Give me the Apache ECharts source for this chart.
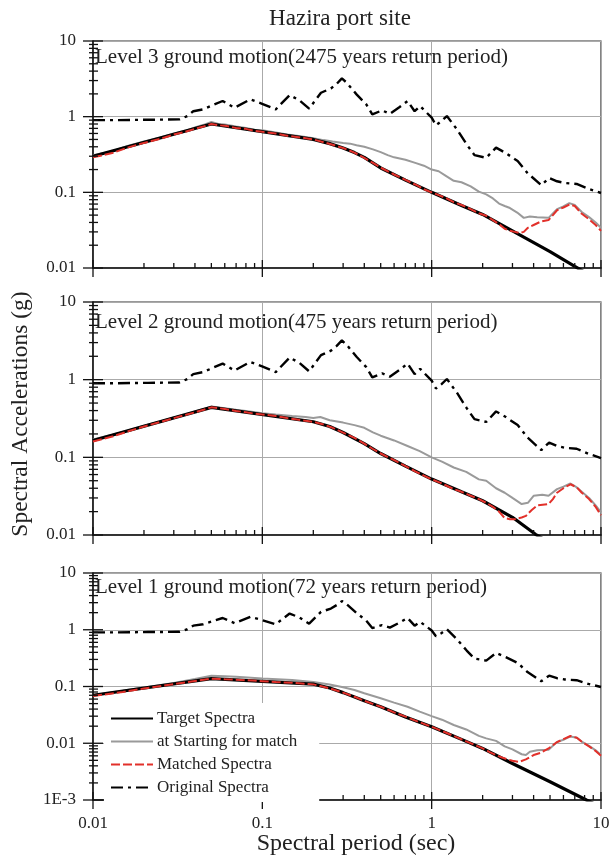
<!DOCTYPE html>
<html><head><meta charset="utf-8">
<script src="https://cdn.jsdelivr.net/npm/echarts@6/dist/echarts.min.js"></script>
<style>html,body{margin:0;padding:0;background:#fff}#c{width:615px;height:856px}</style>
</head><body><div id="c"></div>
<script>
// ---- data (period sec, spectral acceleration g) ----
const seriesNames = ['Target Spectra', 'at Starting for match', 'Matched Spectra', 'Original Spectra'];
const panelTitles = ['Level 3 ground motion(2475 years return period)', 'Level 2 ground motion(475 years return period)', 'Level 1 ground motion(72 years return period)'];
const xTickValues = [0.01, 0.1, 1, 10];
const xMinorValues = [0.02,0.03,0.04,0.05,0.06,0.07,0.08,0.09,0.2,0.3,0.4,0.5,0.6,0.7,0.8,0.9,2,3,4,5,6,7,8,9];
const yRanges = [[0.01, 10], [0.01, 10], [0.001, 10]];

const original = [[0.01,0.90],[0.0138,0.90],[0.0211,0.91],[0.0324,0.92],[0.0361,1.02],[0.0391,1.18],[0.0447,1.25],[0.051,1.42],[0.0583,1.61],[0.0685,1.31],[0.0849,1.69],[0.0997,1.48],[0.120,1.25],[0.145,1.93],[0.166,1.64],[0.189,1.28],[0.222,2.07],[0.254,2.36],[0.275,2.72],[0.295,3.2],[0.315,2.81],[0.360,1.97],[0.411,1.45],[0.446,1.07],[0.509,1.21],[0.566,1.09],[0.647,1.34],[0.721,1.61],[0.793,1.18],[0.855,1.38],[1.0,0.97],[1.06,0.77],[1.14,0.87],[1.23,1.02],[1.41,0.68],[1.61,0.43],[1.79,0.31],[2.10,0.286],[2.40,0.39],[2.74,0.33],[3.22,0.26],[3.68,0.18],[4.44,0.124],[4.94,0.155],[5.50,0.14],[6.11,0.133],[7.18,0.129],[8.43,0.111],[10,0.098]];

const target1 = [[0.01,0.3],[0.05,0.8],[0.2,0.5],[0.25,0.44],[0.3,0.385],[0.35,0.335],[0.4,0.29],[0.5,0.21],[0.7,0.145],[1,0.1],[1.5,0.067],[2,0.051],[3,0.031],[5,0.0165],[7,0.0105],[10,0.0066]];
const start1 = [[0.01,0.31],[0.013,0.35],[0.016,0.41],[0.02,0.47],[0.025,0.53],[0.03,0.6],[0.035,0.65],[0.04,0.72],[0.045,0.78],[0.05,0.85],[0.055,0.8],[0.06,0.79],[0.07,0.74],[0.08,0.71],[0.09,0.67],[0.1,0.66],[0.12,0.62],[0.14,0.58],[0.16,0.56],[0.18,0.54],[0.2,0.52],[0.23,0.49],[0.26,0.47],[0.3,0.45],[0.33,0.44],[0.36,0.42],[0.4,0.40],[0.45,0.37],[0.5,0.34],[0.55,0.31],[0.6,0.29],[0.7,0.27],[0.8,0.245],[0.9,0.225],[1.0,0.2],[1.1,0.19],[1.2,0.168],[1.35,0.142],[1.5,0.136],[1.7,0.12],[1.9,0.102],[2.1,0.094],[2.3,0.083],[2.5,0.071],[2.7,0.066],[2.9,0.062],[3.2,0.054],[3.5,0.046],[3.8,0.048],[4.2,0.047],[4.9,0.046],[5.5,0.06],[6.0,0.065],[6.5,0.072],[7.0,0.068],[7.7,0.055],[8.5,0.047],[9.3,0.04],[10,0.034]];
const matched1 = [[0.01,0.29],[0.013,0.33],[0.016,0.39],[0.02,0.45],[0.025,0.51],[0.03,0.58],[0.035,0.63],[0.04,0.69],[0.045,0.74],[0.05,0.8],[0.055,0.77],[0.06,0.76],[0.07,0.71],[0.08,0.69],[0.09,0.65],[0.1,0.63],[0.12,0.6],[0.14,0.56],[0.16,0.54],[0.18,0.52],[0.2,0.5],[0.23,0.46],[0.26,0.425],[0.3,0.385],[0.35,0.335],[0.4,0.285],[0.45,0.245],[0.5,0.212],[0.6,0.172],[0.7,0.146],[0.8,0.127],[0.9,0.11],[1.0,0.1],[1.1,0.092],[1.2,0.085],[1.35,0.074],[1.5,0.068],[1.7,0.06],[1.9,0.053],[2.1,0.049],[2.3,0.043],[2.5,0.038],[2.7,0.033],[2.9,0.031],[3.1,0.03],[3.3,0.029],[3.5,0.03],[3.7,0.034],[4.0,0.037],[4.4,0.041],[4.9,0.043],[5.2,0.05],[5.5,0.058],[6.0,0.063],[6.5,0.069],[7.0,0.066],[7.7,0.052],[8.5,0.044],[9.3,0.037],[10,0.031]];

const target2 = [[0.01,0.165],[0.05,0.44],[0.2,0.287],[0.25,0.25],[0.3,0.209],[0.4,0.15],[0.5,0.112],[0.7,0.077],[1,0.0525],[1.5,0.036],[2,0.0276],[3,0.0169],[4.1,0.0102],[6,0.0063],[10,0.0035]];
const start2 = [[0.01,0.17],[0.013,0.195],[0.016,0.22],[0.02,0.255],[0.025,0.29],[0.03,0.325],[0.035,0.355],[0.04,0.39],[0.045,0.42],[0.05,0.45],[0.06,0.43],[0.07,0.41],[0.08,0.395],[0.1,0.37],[0.12,0.355],[0.15,0.34],[0.18,0.33],[0.2,0.32],[0.22,0.33],[0.25,0.30],[0.3,0.28],[0.35,0.26],[0.4,0.24],[0.45,0.21],[0.5,0.19],[0.6,0.165],[0.72,0.14],[0.85,0.12],[1.0,0.1],[1.15,0.088],[1.35,0.074],[1.6,0.065],[1.9,0.052],[2.1,0.05],[2.4,0.04],[2.7,0.035],[3.0,0.03],[3.4,0.025],[3.7,0.026],[4.0,0.032],[4.5,0.033],[4.9,0.032],[5.5,0.039],[6.0,0.042],[6.6,0.046],[7.2,0.041],[7.7,0.036],[8.5,0.03],[9.3,0.024],[10,0.0195]];
const matched2 = [[0.01,0.16],[0.013,0.185],[0.016,0.215],[0.02,0.25],[0.025,0.285],[0.03,0.32],[0.035,0.35],[0.04,0.38],[0.045,0.41],[0.05,0.44],[0.06,0.42],[0.07,0.395],[0.08,0.38],[0.09,0.365],[0.1,0.356],[0.12,0.34],[0.14,0.32],[0.16,0.308],[0.18,0.295],[0.2,0.286],[0.23,0.265],[0.26,0.24],[0.3,0.208],[0.35,0.178],[0.4,0.15],[0.45,0.128],[0.5,0.112],[0.6,0.092],[0.7,0.077],[0.8,0.066],[0.9,0.058],[1.0,0.052],[1.1,0.048],[1.2,0.044],[1.35,0.039],[1.5,0.036],[1.7,0.032],[1.9,0.029],[2.1,0.026],[2.3,0.023],[2.5,0.02],[2.7,0.0165],[2.9,0.016],[3.1,0.016],[3.4,0.0168],[3.6,0.0176],[3.9,0.021],[4.2,0.024],[4.9,0.025],[5.2,0.029],[5.5,0.035],[6.0,0.04],[6.6,0.045],[7.2,0.041],[7.7,0.035],[8.5,0.029],[9.3,0.023],[10,0.018]];

const target3 = [[0.01,0.07],[0.05,0.138],[0.2,0.11],[0.25,0.094],[0.3,0.078],[0.4,0.056],[0.5,0.044],[0.7,0.029],[1,0.0195],[1.5,0.0117],[2,0.0081],[3,0.0044],[5,0.0021],[8.2,0.001],[10,0.00075]];
const start3 = [[0.01,0.07],[0.015,0.084],[0.02,0.096],[0.03,0.115],[0.04,0.135],[0.05,0.155],[0.06,0.152],[0.07,0.148],[0.1,0.138],[0.15,0.13],[0.2,0.12],[0.25,0.108],[0.3,0.097],[0.35,0.087],[0.4,0.076],[0.5,0.062],[0.6,0.052],[0.72,0.044],[0.85,0.036],[1.0,0.03],[1.15,0.026],[1.35,0.021],[1.6,0.0175],[1.9,0.0135],[2.1,0.0122],[2.4,0.011],[2.7,0.0088],[3.0,0.0078],[3.4,0.0064],[3.6,0.0062],[3.8,0.0071],[4.2,0.0075],[4.9,0.0077],[5.5,0.0105],[6.0,0.0115],[6.6,0.0132],[7.2,0.0125],[7.7,0.0107],[8.5,0.009],[9.3,0.0075],[10,0.0062]];
const matched3 = [[0.01,0.068],[0.015,0.08],[0.02,0.092],[0.03,0.11],[0.04,0.125],[0.05,0.137],[0.06,0.134],[0.07,0.132],[0.08,0.129],[0.1,0.124],[0.12,0.12],[0.15,0.116],[0.2,0.109],[0.25,0.093],[0.3,0.078],[0.35,0.066],[0.4,0.056],[0.5,0.044],[0.6,0.035],[0.7,0.0295],[0.8,0.025],[0.9,0.022],[1.0,0.0195],[1.2,0.0156],[1.4,0.0128],[1.6,0.0108],[1.8,0.0093],[2.0,0.0081],[2.2,0.007],[2.4,0.0062],[2.6,0.0056],[2.8,0.0052],[3.0,0.0049],[3.3,0.0047],[3.6,0.0052],[4.0,0.0062],[4.4,0.0068],[4.9,0.0081],[5.5,0.0105],[6.0,0.0118],[6.6,0.0134],[7.2,0.0125],[7.7,0.0106],[8.5,0.0088],[9.3,0.0073],[10,0.006]];

// ---- chart ----
const FONT = '"Liberation Serif", "DejaVu Serif", serif';
const panels = [
  {top: 41, height: 227, target: target1, start: start1, matched: matched1},
  {top: 302, height: 233, target: target2, start: start2, matched: matched2},
  {top: 573, height: 227, target: target3, start: start3, matched: matched3}
];
function yMinorList(r) {
  const out = [];
  for (let e = Math.round(Math.log10(r[0])); e < Math.round(Math.log10(r[1])); e++)
    for (let k = 2; k <= 9; k++) out.push(+(k * Math.pow(10, e)).toPrecision(3));
  return out;
}
function yMajorList(r) {
  const out = [];
  for (let e = Math.round(Math.log10(r[0])); e <= Math.round(Math.log10(r[1])); e++) out.push(Math.pow(10, e));
  return out;
}
function fmt(v) {
  const e = Math.round(Math.log10(v));
  if (e === -3) return '1E-3';
  if (e >= 0) return String(Math.pow(10, e));
  return '0.' + '0'.repeat(-e - 1) + '1';
}
const grid = [], xAxis = [], yAxis = [], series = [];
panels.forEach((p, i) => {
  grid.push({left: 93, right: 14, top: p.top, height: p.height, show: true, borderColor: '#333', borderWidth: 1.2, backgroundColor: 'transparent'});
  xAxis.push({type: 'log', logBase: 10, gridIndex: i, min: 0.01, max: 10,
    axisLine: {show: true, lineStyle: {color: '#111', width: 1.5}},
    axisTick: {show: false}, minorTick: {show: false},
    splitLine: {show: true, lineStyle: {color: '#aaa', width: 1}},
    axisLabel: {show: i === 2, formatter: fmt, fontFamily: FONT, fontSize: 17, color: '#222', margin: 15}});
  yAxis.push({type: 'log', logBase: 10, gridIndex: i, min: yRanges[i][0], max: yRanges[i][1],
    axisLine: {show: true, lineStyle: {color: '#111', width: 1.5}},
    axisTick: {show: false}, minorTick: {show: false},
    splitLine: {show: true, lineStyle: {color: '#aaa', width: 1}},
    axisLabel: {formatter: fmt, fontFamily: FONT, fontSize: 17, color: '#222', margin: 17}});
  const base = {type: 'line', xAxisIndex: i, yAxisIndex: i, symbol: 'none', showSymbol: false, animation: false, clip: true};
  series.push(Object.assign({}, base, {name: seriesNames[1], data: p.start, z: 2, lineStyle: {color: '#9a9a9a', width: 2}, itemStyle: {color: '#9a9a9a'}}));
  series.push(Object.assign({}, base, {name: seriesNames[0], data: p.target, z: 3, lineStyle: {color: '#000', width: 3.2}, itemStyle: {color: '#000'}}));
  series.push(Object.assign({}, base, {name: seriesNames[2], data: p.matched, z: 4, lineStyle: {color: '#e2302a', width: 2, type: [9, 3]}, itemStyle: {color: '#e2302a'}}));
  series.push(Object.assign({}, base, {name: seriesNames[3], data: original, z: 5, lineStyle: {color: '#000', width: 2.4, type: [12, 5, 3, 5]}, itemStyle: {color: '#000'}}));
  // tick marks drawn through the axis scales
  const r = yRanges[i];
  const tickData = [];
  xTickValues.forEach(v => tickData.push([v, r[0], 'xM']));
  xMinorValues.forEach(v => tickData.push([v, r[0], 'xm']));
  yMajorList(r).forEach(v => tickData.push([0.01, v, 'yM']));
  yMinorList(r).forEach(v => tickData.push([0.01, v, 'ym']));
  series.push({type: 'custom', xAxisIndex: i, yAxisIndex: i, z: 6, silent: true, animation: false,
    encode: {x: 0, y: 1}, data: tickData,
    renderItem: (params, api) => {
      const kind = tickData[params.dataIndex][2];
      const c = api.coord([api.value(0), api.value(1)]);
      let shape;
      if (kind === 'xM') shape = {x1: c[0], y1: c[1] - 8, x2: c[0], y2: c[1] + 9};
      else if (kind === 'xm') shape = {x1: c[0], y1: c[1] - 5, x2: c[0], y2: c[1]};
      else if (kind === 'yM') shape = {x1: c[0] - 10, y1: c[1], x2: c[0] + 10, y2: c[1]};
      else shape = {x1: c[0] - 4, y1: c[1], x2: c[0] + 5, y2: c[1]};
      return {type: 'line', shape: shape, style: {stroke: '#111', lineWidth: 1.3}};
    }});
});
const graphic = [
  {type: 'text', x: 340, y: 19, style: {text: 'Hazira port site', font: '23px ' + FONT, fill: '#222', align: 'center', verticalAlign: 'middle'}},
  {type: 'text', x: 356, y: 844, style: {text: 'Spectral period (sec)', font: '24px ' + FONT, fill: '#222', align: 'center', verticalAlign: 'middle'}},
  {type: 'text', x: 21, y: 414, rotation: Math.PI / 2, style: {text: 'Spectral Accelerations (g)', font: '23.5px ' + FONT, fill: '#222', align: 'center', verticalAlign: 'middle'}},
  {type: 'text', x: 95, y: 57, z: 10, style: {text: panelTitles[0], font: '21px ' + FONT, fill: '#222', align: 'left', verticalAlign: 'middle'}},
  {type: 'text', x: 95, y: 322, z: 10, style: {text: panelTitles[1], font: '21px ' + FONT, fill: '#222', align: 'left', verticalAlign: 'middle'}},
  {type: 'text', x: 95, y: 587, z: 10, style: {text: panelTitles[2], font: '21px ' + FONT, fill: '#222', align: 'left', verticalAlign: 'middle'}}
];
const chart = echarts.init(document.getElementById('c'));
chart.setOption({
  animation: false,
  backgroundColor: '#fff',
  grid: grid, xAxis: xAxis, yAxis: yAxis, series: series, graphic: graphic,
  legend: {data: seriesNames, orient: 'vertical', left: 104, top: 703, itemWidth: 42, itemHeight: 14, itemGap: 6,
    backgroundColor: '#fff', padding: [7, 22, 6, 6], z: 8,
    itemStyle: {opacity: 0},
    textStyle: {fontFamily: FONT, fontSize: 17, color: '#222', padding: [0, 0, 0, -1]}}
});
</script></body></html>
